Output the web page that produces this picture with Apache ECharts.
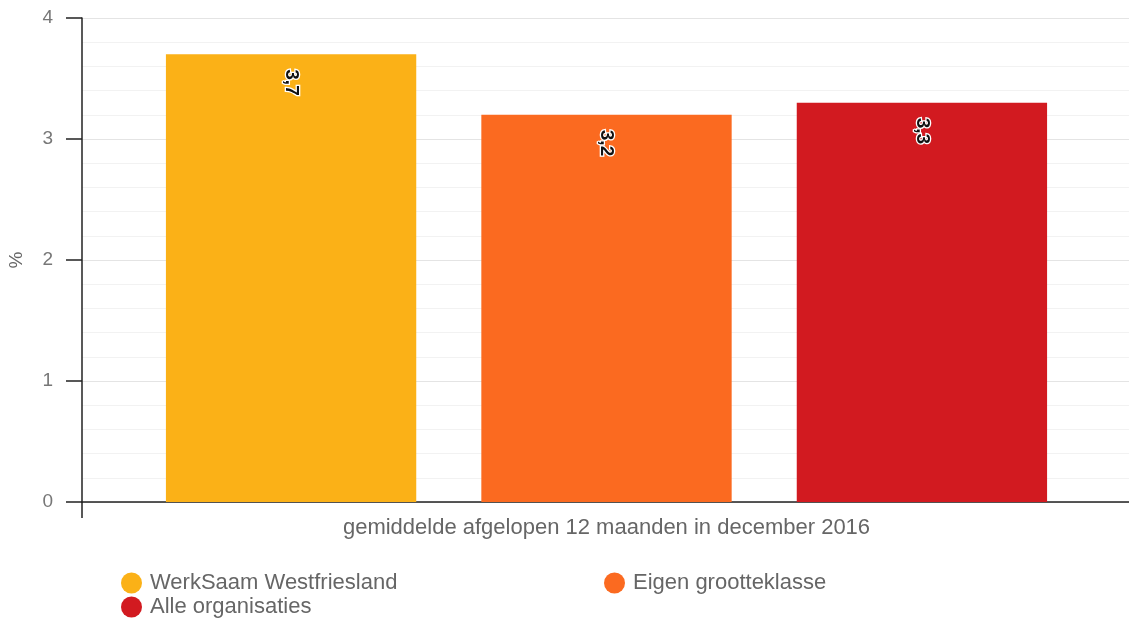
<!DOCTYPE html>
<html><head><meta charset="utf-8">
<script src="https://cdn.jsdelivr.net/npm/echarts@6/dist/echarts.min.js"></script>
<style>html,body{margin:0;padding:0;background:#fff}#c{width:1129px;height:621px}</style>
</head><body><div id="c"></div>
<script>
const categories = ['gemiddelde afgelopen 12 maanden in december 2016'];
const seriesNames = ['WerkSaam Westfriesland', 'Eigen grootteklasse', 'Alle organisaties'];
const werkSaam = [3.7];
const eigen = [3.2];
const alle = [3.3];
const yTicks = [0, 1, 2, 3, 4];
const colors = ['#FBB117', '#FB6A20', '#D21A20'];
const values = [werkSaam, eigen, alle];

const chart = echarts.init(document.getElementById('c'));
const font = 'Liberation Sans, Arial, sans-serif';
const legendText = { color: '#666', fontSize: 22, fontFamily: font };
function mkLegend(name, left, top) {
  return { data: [name], left: left, top: top, icon: 'circle', itemWidth: 27, itemHeight: 21,
           itemGap: 0, padding: 0, textStyle: legendText };
}
chart.setOption({
  animation: false,
  textStyle: { fontFamily: font },
  grid: { left: 82, right: -2, top: 18, bottom: 119, containLabel: false, outerBoundsMode: 'none' },
  xAxis: {
    type: 'category', data: categories,
    axisLine: { lineStyle: { color: '#222', width: 1.5 } },
    axisTick: { show: true, length: 16, lineStyle: { color: '#222', width: 1.5 } },
    axisLabel: { color: '#666', fontSize: 22, margin: 15, fontFamily: font }
  },
  yAxis: {
    type: 'value', min: yTicks[0], max: yTicks[yTicks.length - 1], interval: 1,
    name: '%', nameLocation: 'middle', nameGap: 56, nameRotate: 90,
    nameTextStyle: { color: '#666', fontSize: 19, fontFamily: font },
    axisLine: { show: true, lineStyle: { color: '#222', width: 1.5 } },
    axisTick: { show: true, length: 16, lineStyle: { color: '#222', width: 1.5 } },
    axisLabel: { color: '#777', fontSize: 19, margin: 29, fontFamily: font },
    splitLine: { show: true, lineStyle: { color: '#e4e4e4' } },
    minorTick: { show: false, splitNumber: 5 },
    minorSplitLine: { show: true, lineStyle: { color: '#f2f2f2' } }
  },
  legend: [
    mkLegend(seriesNames[0], 121, 572),
    mkLegend(seriesNames[2], 121, 596),
    mkLegend(seriesNames[1], 604, 572)
  ],
  series: seriesNames.map((n, i) => ({
    name: n, type: 'bar', data: values[i],
    barCategoryGap: '16%', barGap: '26%',
    itemStyle: { color: colors[i] },
    label: {
      show: true, position: ['50%', 15], rotate: -90, align: 'left', verticalAlign: 'middle',
      formatter: p => String(p.value).replace('.', ','),
      color: '#111', fontSize: 19, fontWeight: 'bold', fontFamily: font,
      textBorderColor: '#fff', textBorderWidth: 2.5
    }
  }))
});
</script></body></html>
